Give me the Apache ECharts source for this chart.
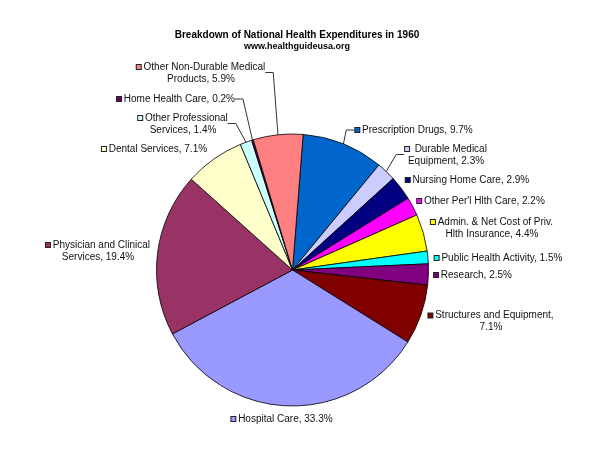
<!DOCTYPE html>
<html>
<head>
<meta charset="utf-8">
<script src="https://cdn.jsdelivr.net/npm/echarts@6/dist/echarts.min.js"></script>
<style>html,body{margin:0;padding:0;background:#fff;}#c{width:603px;height:465px;}</style>
</head>
<body>
<div id="c"></div>
<script>
const categories = ['Prescription Drugs', 'Durable Medical Equipment', 'Nursing Home Care', "Other Per'l Hlth Care",
  'Admin. & Net Cost of Priv. Hlth Insurance', 'Public Health Activity', 'Research', 'Structures and Equipment',
  'Hospital Care', 'Physician and Clinical Services', 'Dental Services', 'Other Professional Services',
  'Home Health Care', 'Other Non-Durable Medical Products'];
const values = [9.7, 2.3, 2.9, 2.2, 4.4, 1.5, 2.5, 7.1, 33.3, 19.4, 7.1, 1.4, 0.2, 5.9];
const colors = ['#0066CC', '#CCCCFF', '#000080', '#FF00FF', '#FFFF00', '#00FFFF', '#800080', '#800000',
  '#9999FF', '#993366', '#FFFFCC', '#CCFFFF', '#660066', '#FF8080'];
// words on first label line (0 = no wrap)
const wrapWords = [0, 2, 0, 0, 6, 0, 0, 3, 0, 3, 0, 2, 0, 3];
// label block centres (layout)
const labelPos = [[414, 130], [446, 155], [467.5, 180], [481, 201], [492, 228], [498.5, 258], [473, 275],
  [491, 321.5], [282, 419], [98, 251], [154.5, 149], [183, 124], [176, 99], [201, 73]];
const withLeader = [true, true, false, false, false, false, false, false, false, false, false, true, true, true];

function labelText(i) {
  const full = categories[i] + ', ' + values[i] + '%';
  const n = wrapWords[i];
  const words = full.split(' ');
  let l1 = full, l2 = null;
  if (n > 0) { l1 = words.slice(0, n).join(' '); l2 = words.slice(n).join(' '); }
  const pre = i === 1 ? '  ' : ' ';
  let s = '{k|}{t|' + pre + l1 + '}';
  if (l2) s += '\n{t|' + l2 + '}';
  return s;
}

const data = values.map((v, i) => ({
  name: categories[i],
  value: v,
  itemStyle: { color: colors[i] },
  label: {
    formatter: labelText(i),
    rich: {
      k: { width: 4, height: 4, backgroundColor: colors[i], borderColor: '#222', borderWidth: 1 },
      t: { fontSize: 10, fontFamily: 'Liberation Sans, Arial, sans-serif', color: '#111', lineHeight: 12 }
    }
  },
  labelLine: { show: withLeader[i] }
}));

const chart = echarts.init(document.getElementById('c'), null, { renderer: 'canvas' });
chart.setOption({
  backgroundColor: '#fff',
  animation: false,
  title: {
    text: 'Breakdown of National Health Expenditures in 1960',
    subtext: 'www.healthguideusa.org',
    left: 292, top: 25, textAlign: 'center', itemGap: 2,
    textStyle: { fontSize: 10, fontWeight: 'bold', color: '#000', fontFamily: 'Liberation Sans, Arial, sans-serif' },
    subtextStyle: { fontSize: 9, fontWeight: 'bold', color: '#000', fontFamily: 'Liberation Sans, Arial, sans-serif' }
  },
  series: [{
    type: 'pie',
    center: [292.5, 270],
    radius: 136,
    startAngle: 85.5,
    clockwise: true,
    avoidLabelOverlap: false,
    data: data,
    itemStyle: { borderColor: '#000', borderWidth: 0.8 },
    label: { show: true, position: 'outside', align: 'center' },
    labelLine: { show: true, length: 8, length2: 8, lineStyle: { color: '#333', width: 1 } },
    labelLayout: function (p) {
      const pos = labelPos[p.dataIndex];
      return { x: pos[0], y: pos[1], align: 'center', verticalAlign: 'middle' };
    },
    emphasis: { disabled: true }
  }]
});
</script>
</body>
</html>
